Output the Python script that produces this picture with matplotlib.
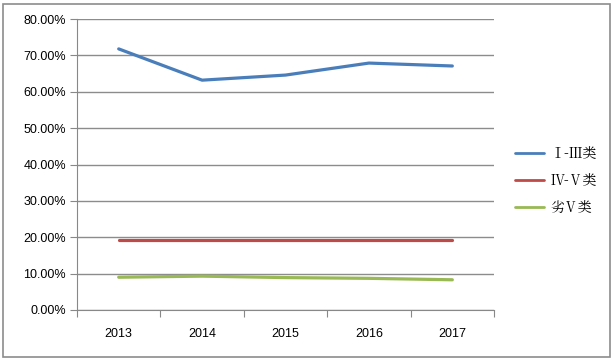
import matplotlib
matplotlib.use("Agg")
import matplotlib.pyplot as plt
from matplotlib.patches import Rectangle
from matplotlib.ticker import FuncFormatter, MultipleLocator

years = ["2013", "2014", "2015", "2016", "2017"]
cls_1_3 = [71.8, 63.2, 64.6, 67.9, 67.1]
cls_4_5 = [19.3, 19.3, 19.3, 19.3, 19.3]
cls_bad5 = [9.0, 9.3, 8.9, 8.7, 8.3]
labels = ["Ⅰ-Ⅲ类", "Ⅳ-Ⅴ类", "劣Ⅴ类"]
colors = ["#4a7ebb", "#be4b48", "#98b954"]

plt.rcParams['font.family'] = ['Liberation Sans', 'DejaVu Sans']

fig = plt.figure(figsize=(6.14, 3.6), dpi=100)
ax = fig.add_axes([0.1254, 0.139, 0.6792, 0.808])
x = range(len(years))
for vals, lab, c in zip([cls_1_3, cls_4_5, cls_bad5], labels, colors):
    ax.plot(x, vals, color=c, lw=2.3, label=lab, solid_capstyle='round')

ax.set_xlim(-0.5, len(years) - 0.5)
ax.set_ylim(0, 80)
ax.yaxis.set_major_locator(MultipleLocator(10))
ax.yaxis.set_major_formatter(FuncFormatter(lambda v, p: f"{v:.2f}%"))
ax.set_xticks([i - 0.5 for i in range(len(years) + 1)], minor=False)
ax.set_xticklabels([])
ax.set_xticks(list(x), minor=True)
ax.set_xticklabels(years, minor=True)
ax.tick_params(axis='x', which='major', length=5, color='#888888', direction='out')
ax.tick_params(axis='x', which='minor', length=0, pad=13, labelsize=9)
ax.tick_params(axis='y', length=5, color='#888888', labelsize=9, pad=3)
ax.grid(axis='y', color='#8c8c8c', lw=1)
ax.set_axisbelow(True)
for s in ['top', 'right']:
    ax.spines[s].set_visible(False)
for s in ['left', 'bottom']:
    ax.spines[s].set_color('#888888')

leg = ax.legend(loc='center left', bbox_to_anchor=(1.02, 0.443), frameon=False,
                prop={'family': ['Noto Serif CJK SC', 'Noto Sans CJK SC', 'DejaVu Sans'], 'size': 10},
                handlelength=2.1, labelspacing=0.82, handletextpad=0.45)
for h in leg.get_lines():
    h.set_linewidth(2.0)

fig.patches.append(Rectangle((3/614, 3/360), 607/614, 353/360, transform=fig.transFigure,
                             fill=False, edgecolor='#8c8c8c', lw=1.2))
fig.savefig("out.png", dpi=100)
